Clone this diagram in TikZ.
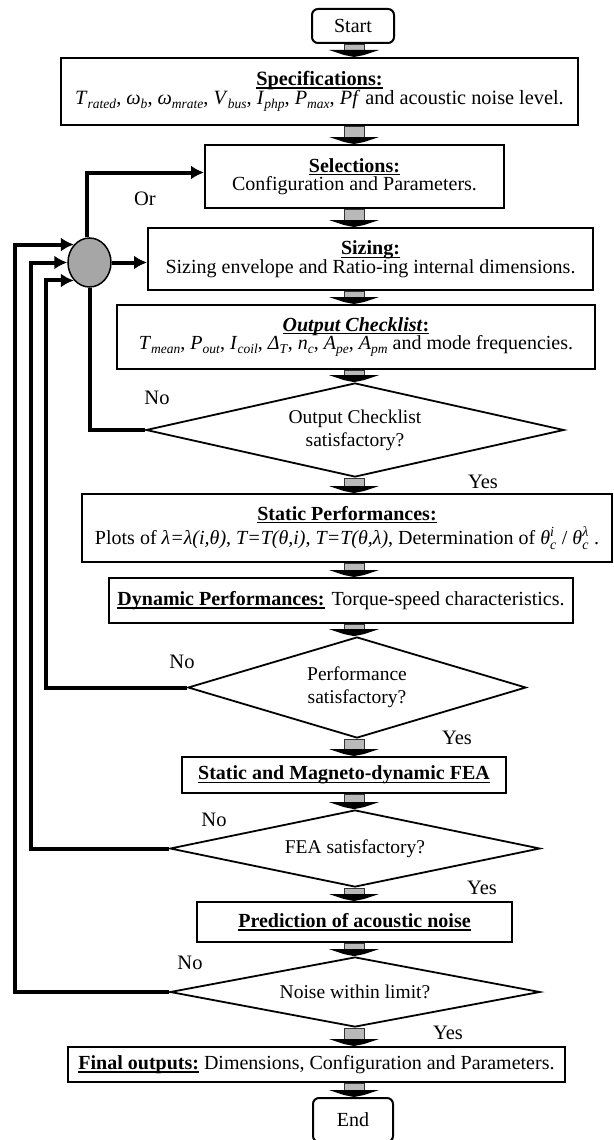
\documentclass[tikz,border=0pt]{standalone}
\usepackage{fontspec}
\setmainfont{Liberation Serif}
\usepackage{amsmath}
\usetikzlibrary{shapes.geometric,arrows.meta,calc}
\newcommand{\sbs}[2]{\textit{#1}\raisebox{-0.22em}{\fontsize{13.5}{14}\selectfont\textit{#2}}}
\newsavebox{\ulbox}
\newcommand{\ulbf}[1]{\sbox{\ulbox}{\textbf{#1}}\rlap{\vrule width\wd\ulbox height -2pt depth 3.4pt}\usebox{\ulbox}}
\newcommand{\flowarrow}[2]{%
  \path (#1.south -| col) coordinate (fa1) (#2.north -| col) coordinate (fa2);
  \filldraw[fill=gray!55, draw=black!80, line width=0.8pt] ($(fa1)+(-10,0)$) rectangle ($(fa2)+(10,-5)$);
  \fill ($(fa2)+(-25,-7)$) -- ($(fa2)+(25,-7)$) -- ($(fa2)+(10,-2)$) -- (fa2) -- ($(fa2)+(-10,-2)$) -- cycle;
}
\begin{document}
\begin{tikzpicture}[x=1pt,y=-1pt,
  box/.style={draw, line width=2pt, inner sep=0pt, align=center, font=\fontsize{20}{18.5}\selectfont},
  term/.style={box, rounded corners=6pt},
  dia/.style={draw, shape=diamond, line width=1.8pt, inner sep=0pt, align=center, font=\fontsize{19.5}{23}\selectfont},
  fb/.style={line width=4pt},
  tip/.style={-{Latex[length=13pt,width=14pt]}},
  lbl/.style={font=\fontsize{20.5}{24}\selectfont, inner sep=0pt}]
\useasboundingbox (0,0) rectangle (613,1140);
\coordinate (col) at (354,0);
\coordinate (r1) at (15,0);
\coordinate (r2) at (31,0);
\coordinate (r3) at (46,0);

\node[term, minimum width=82, minimum height=34] (start) at (353,26) {Start};
\node[box, minimum width=517, minimum height=67, font=\fontsize{20.3}{19}\selectfont] (spec) at (319.5,91.5)
  {\ulbf{Specifications:}\\ \sbs{T}{rated}, \sbs{ω}{b}, \sbs{ω}{mrate}, \sbs{V}{bus}, \sbs{I}{php}, \sbs{P}{max}, \textit{Pf} and acoustic noise level.};
\node[box, minimum width=299, minimum height=63] (sel) at (354.5,176.5)
  {\ulbf{Selections:}\\ Configuration and Parameters.};
\node[box, minimum width=445, minimum height=62] (siz) at (370.5,259)
  {\ulbf{Sizing:}\\ Sizing envelope and Ratio-ing internal dimensions.};
\node[box, minimum width=478, minimum height=64] (out) at (356,337)
  {\ulbf{\textit{Output Checklist}:}\\ \sbs{T}{mean}, \sbs{P}{out}, \sbs{I}{coil}, \sbs{Δ}{T}, \sbs{n}{c}, \sbs{A}{pe}, \sbs{A}{pm} and mode frequencies.};
\node[dia, aspect=4.4, minimum width=418, minimum height=94] (d1) at (355,430) {Output Checklist\\satisfactory?};
\node[box, minimum width=530, minimum height=68] (stat) at (347,528)
  {\ulbf{Static Performances:}\\[2pt] Plots of \textit{λ=λ(i,θ)}, \textit{T=T(θ,i)}, \textit{T=T(θ,λ)}, Determination of $\textit{θ}_{\textit{c}}^{\textit{i}}$ / $\textit{θ}_{\textit{c}}^{\textit{λ}}$ .};
\node[box, minimum width=464, minimum height=45] (dyn) at (341,600.5)
  {\ulbf{Dynamic Performances:}\hspace{7pt}Torque-speed characteristics.};
\node[dia, aspect=3.3, minimum width=338, minimum height=101] (d2) at (357,687.5) {Performance\\satisfactory?};
\node[box, minimum width=324, minimum height=36] (fea) at (344,775)
  {\ulbf{Static and Magneto-dynamic FEA}};
\node[dia, aspect=4.8, minimum width=370, minimum height=77] (d3) at (355,848.5) {FEA satisfactory?};
\node[box, minimum width=315, minimum height=40] (pred) at (354.5,922)
  {\ulbf{Prediction of acoustic noise}};
\node[dia, aspect=5.3, minimum width=370, minimum height=70] (d4) at (355,992) {Noise within limit?};
\node[box, minimum width=497, minimum height=35] (fin) at (316.5,1064.5)
  {\ulbf{Final outputs:} Dimensions, Configuration and Parameters.};
\node[term, minimum width=80, minimum height=44] (end) at (353,1120) {End};

\node[ellipse, draw, line width=1.5pt, fill=gray!70, minimum width=43, minimum height=49, inner sep=0pt] (circ) at (89.5,262.5) {};

\node[lbl] (or) at (145,199) {Or};
\node[lbl] (no1) at (157,398) {No};
\node[lbl] (yes1) at (483,482) {Yes};
\node[lbl] (no2) at (182,662) {No};
\node[lbl] (yes2) at (457,738) {Yes};
\node[lbl] (no3) at (214,820) {No};
\node[lbl] (yes3) at (482,888) {Yes};
\node[lbl] (no4) at (190,963) {No};
\node[lbl] (yes4) at (448,1033) {Yes};

\draw[fb, tip] ([xshift=-3pt]circ.north) |- ([yshift=4pt]sel.west);
\draw[fb, tip] (circ.east) -- (circ.east -| siz.west);
\draw[fb] (d1.west) -| (circ.south);
\draw[fb, tip] (d2.west) -| (r3 |- circ.229) -- (circ.229);
\draw[fb, tip] (d3.west) -| (r2 |- circ.west) -- (circ.west);
\draw[fb, tip] (d4.west) -| (r1 |- circ.131) -- (circ.131);

\flowarrow{start}{spec}
\flowarrow{spec}{sel}
\flowarrow{sel}{siz}
\flowarrow{siz}{out}
\flowarrow{out}{d1}
\flowarrow{d1}{stat}
\flowarrow{stat}{dyn}
\flowarrow{dyn}{d2}
\flowarrow{d2}{fea}
\flowarrow{fea}{d3}
\flowarrow{d3}{pred}
\flowarrow{pred}{d4}
\flowarrow{d4}{fin}
\flowarrow{fin}{end}
\end{tikzpicture}
\end{document}
